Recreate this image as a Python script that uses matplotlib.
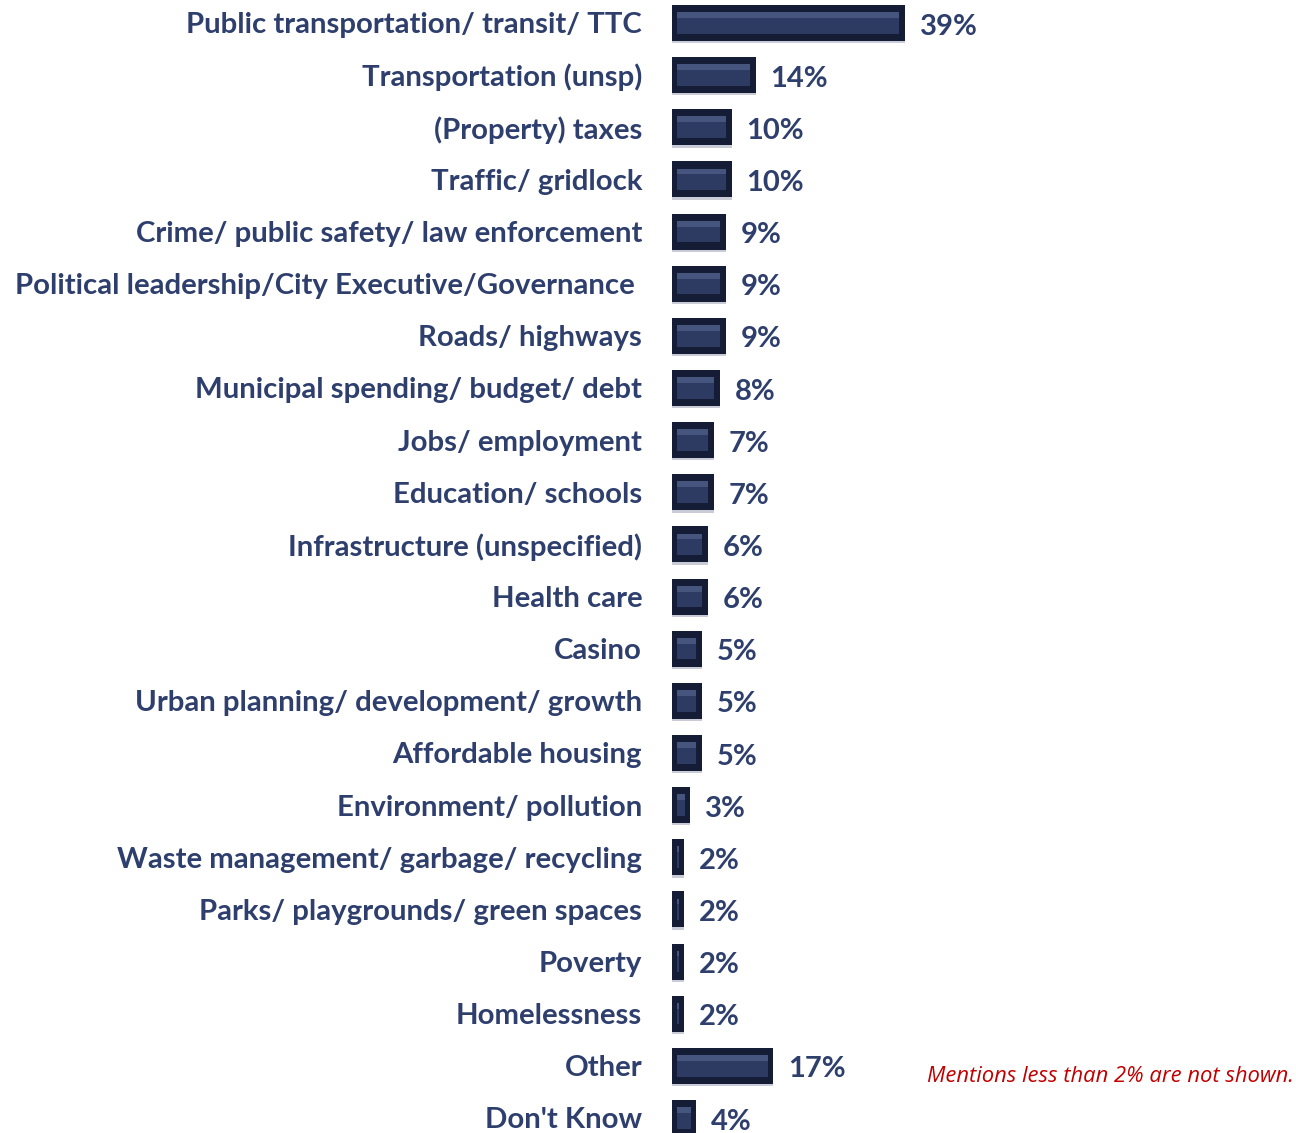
import matplotlib
matplotlib.use("Agg")
import matplotlib.pyplot as plt

categories = [
    "Public transportation/ transit/ TTC",
    "Transportation (unsp)",
    "(Property) taxes",
    "Traffic/ gridlock",
    "Crime/ public safety/ law enforcement",
    "Political leadership/City Executive/Governance ",
    "Roads/ highways",
    "Municipal spending/ budget/ debt",
    "Jobs/ employment",
    "Education/ schools",
    "Infrastructure (unspecified)",
    "Health care",
    "Casino",
    "Urban planning/ development/ growth",
    "Affordable housing",
    "Environment/ pollution",
    "Waste management/ garbage/ recycling",
    "Parks/ playgrounds/ green spaces",
    "Poverty",
    "Homelessness",
    "Other",
    "Don't Know",
]
values = [39, 14, 10, 10, 9, 9, 9, 8, 7, 7, 6, 6, 5, 5, 5, 3, 2, 2, 2, 2, 17, 4]
value_labels = [f"{v}%" for v in values]
note = "Mentions less than 2% are not shown."

W, H = 1296, 1133
fig = plt.figure(figsize=(W / 100, H / 100), dpi=100)
ax = fig.add_axes([672 / W, 0, (W - 672) / W, 1])
px_per_unit = 5.97
ax.set_xlim(0, (W - 672) / px_per_unit)
row_px = 52.14
first_px = 23
ax.set_ylim((H - first_px) / row_px, -first_px / row_px)

navy = "#2E3F6E"
ypos = list(range(len(categories)))
bh = 0.69
# shadow/reflection
ax.barh([y + 0.045 for y in ypos], values, height=bh, color="#c9ccd6", zorder=1)
# base bar
ax.barh(ypos, values, height=bh, color="#141c36", zorder=2)
# bevel inner face
ins = 0.9
inner_w = [max(v - 2 * ins, 0.3) for v in values]
inner_l = [min(ins, v / 2 - 0.15) for v in values]
ax.barh(ypos, inner_w, left=inner_l, height=bh * 0.6, color="#2d3a61", zorder=3)
# top highlight
ax.barh([y - bh * 0.22 for y in ypos], inner_w, left=inner_l, height=bh * 0.16,
        color="#46557d", zorder=4)

for y, v, lab in zip(ypos, values, value_labels):
    ax.text(v + 2.5, y + 0.07, lab, ha="left", va="center", fontsize=21,
            fontweight="bold", color=navy, family="Lato")

ax.set_yticks(ypos)
ax.set_yticklabels(categories, fontsize=21.2, fontweight="bold", color=navy, family="Lato")
ax.tick_params(axis="y", length=0, pad=21.5)
ax.tick_params(axis="x", bottom=False, labelbottom=False)
for s in ax.spines.values():
    s.set_visible(False)

fig.text(1110 / W, 1 - 1077 / H, note, ha="center", va="center", fontsize=15.8,
         style="italic", color="#C00000", family="Open Sans")

fig.savefig("out.png", dpi=100)
